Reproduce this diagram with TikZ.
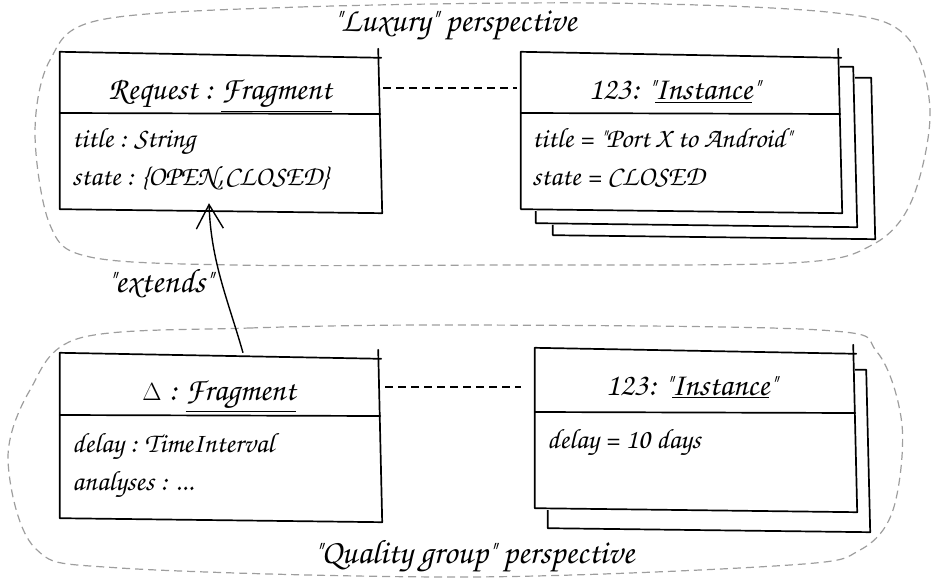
\documentclass[tikz,border=0pt]{standalone}
\usepackage[T1]{fontenc}
\usetikzlibrary{arrows.meta}
\newcommand\handfont{\fontencoding{T1}\fontfamily{pzc}\fontseries{mb}\fontshape{it}\selectfont}
\tikzset{
  box/.style={draw=none, fill=white, rectangle, inner sep=0pt},
  sk/.style={line width=1.7pt, line cap=round, line join=round},
  grp/.style={draw=black!38, line width=1.2pt, dash pattern=on 8pt off 5pt},
  ttl/.style={font=\handfont\fontsize{32}{36}\selectfont, anchor=base, inner sep=0pt},
  att/.style={font=\handfont\fontsize{28}{32}\selectfont, anchor=base west, inner sep=0pt},
  lbl/.style={font=\handfont\fontsize{34}{38}\selectfont, anchor=base, inner sep=0pt},
  link/.style={line width=1.3pt, dash pattern=on 8pt off 5pt},
}
% hand-drawn outline of a front box node
\newcommand\sketchbox[1]{%
  \draw[sk] (#1.north west) -- ([shift={(1,6)}]#1.north east);
  \draw[sk] ([shift={(-2,-3)}]#1.north east) -- ([shift={(2,2)}]#1.south east)
            -- ([shift={(0,-2)}]#1.south west) -- (#1.north west);
}
% outline of a sheet lying behind
\newcommand\sketchsheet[1]{%
  \draw[sk] (#1.north west) -- ([shift={(-2,2)}]#1.north east) -- ([shift={(2,2)}]#1.south east)
            -- ([shift={(0,-2)}]#1.south west) -- cycle;
}
\newcommand\sketchdiv[2]{%
  \draw[sk] (#1.west |- 0,#2) -- ([yshift=-1pt]#1.east |- 0,#2);
}
\begin{document}
\begin{tikzpicture}[x=1pt,y=-1pt]
\useasboundingbox (0,0) rectangle (933,580);

% group outlines
\draw[grp] plot[smooth cycle, tension=0.55] coordinates {
  (100,20) (300,7) (600,3) (827,12) (905,35) (930,110) (912,200) (872,245)
  (790,263) (500,265) (233,265) (90,257) (50,225) (35,133) (50,60)};
\draw[grp] plot[smooth cycle, tension=0.55] coordinates {
  (80,338) (250,328) (470,325) (820,330) (877,352) (902,425) (893,510)
  (860,550) (790,565) (470,577) (120,568) (35,548) (8,460) (30,390)};

% labels
\node[lbl] (luxlbl) at (455,32) {"Luxury" perspective};
\node[lbl] (quallbl) at (474,563) {"Quality group" perspective};

% top left box
\node[box, minimum width=320pt, minimum height=159pt] (req) at (220,131.5) {};
\sketchbox{req}
\sketchdiv{req}{113}
\node[ttl] (reqt) at (220,100) {Request : \underline{Fragment}};
\node[att] (reqa1) at (72,148) {title : String};
\node[att] (reqa2) at (72,185) {state : \{OPEN,\kern1.5pt CLOSED\}};

% top right stacked instance
\node[box, minimum width=320pt, minimum height=161pt] (inst3) at (713,156.5) {};
\sketchsheet{inst3}
\node[box, minimum width=319pt, minimum height=160pt] (inst2) at (695.5,145) {};
\sketchsheet{inst2}
\node[box, minimum width=319pt, minimum height=159pt] (inst) at (680.5,131.5) {};
\sketchbox{inst}
\sketchdiv{inst}{113}
\node[ttl] (instt) at (674,100) {123: "\underline{Instance}"};
\node[att] (insta1) at (532,148) {title = "Port X to Android"};
\node[att] (insta2) at (532,185) {state = CLOSED};

% bottom left box
\node[box, minimum width=320pt, minimum height=167pt] (delta) at (220,436.5) {};
\sketchbox{delta}
\sketchdiv{delta}{415}
\node[ttl] (deltat) at (219,400) {$\Delta$ : \underline{Fragment}};
\node[att] (deltaa1) at (72,452) {delay : TimeInterval};
\node[att] (deltaa2) at (72,490) {analyses : ...};

% bottom right stacked instance
\node[box, minimum width=320pt, minimum height=162pt] (binst2) at (708,449) {};
\sketchsheet{binst2}
\node[box, minimum width=320pt, minimum height=162pt] (binst) at (695,429) {};
\sketchbox{binst}
\sketchdiv{binst}{412}
\node[ttl] (binstt) at (691,395) {123: "\underline{Instance}"};
\node[att] (binsta1) at (547,448) {delay = 10 days};

% dashed links
\draw[link] ([xshift=3pt]req.east |- 0,88) -- ([xshift=-4pt]inst.west |- 0,88);
\draw[link] ([xshift=5pt]delta.east |- 0,387) -- ([xshift=-14pt]binst.west |- 0,387);

% extends arrow
\draw[line width=1.4pt, -{Straight Barb[length=24pt, width=27pt, line width=1.4pt]}]
  ([xshift=23pt]delta.north) .. controls (228,300) and (211,262) .. ([shift={(-11pt,8pt)}]req.south);
\node[lbl] (extlbl) at (160,292) {"extends"};
\end{tikzpicture}
\end{document}
